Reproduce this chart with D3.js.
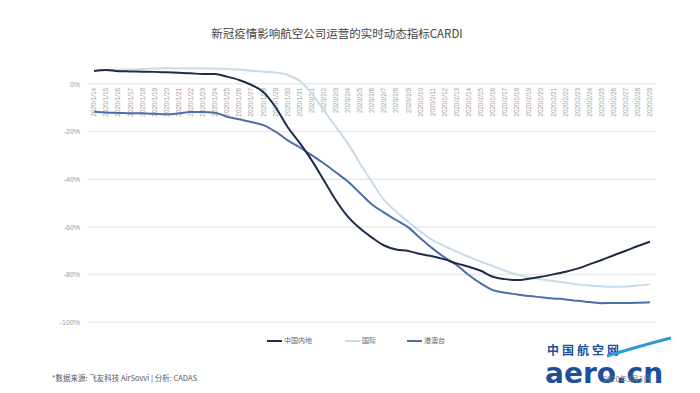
<!DOCTYPE html>
<html>
<head>
<meta charset="utf-8">
<style>
    body { margin: 0; background: #fff; }
    svg { display: block; font-family: "Noto Sans CJK SC", "Noto Sans", sans-serif; }
    .grid line { stroke: #e9e9e9; stroke-width: 1.5; }
    .grid .domain { display: none; }
    .y .tick text { font-size: 7px; fill: #9a9a9a; }
    .y .domain, .y .tick line { display: none; }
    .x .tick text { font-size: 6.5px; fill: #a0a0a0; }
    .x .domain, .x .tick line { display: none; }
</style>
</head>
<body>
<svg width="700" height="393"></svg>

<script src="https://d3js.org/d3.v7.min.js"></script>
<script>
// categories
let dates = [
    "2020/1/14", "2020/1/15", "2020/1/16", "2020/1/17", "2020/1/18", "2020/1/19", "2020/1/20",
    "2020/1/21", "2020/1/22", "2020/1/23", "2020/1/24", "2020/1/25", "2020/1/26", "2020/1/27",
    "2020/1/28", "2020/1/29", "2020/1/30", "2020/1/31", "2020/2/1", "2020/2/2", "2020/2/3",
    "2020/2/4", "2020/2/5", "2020/2/6", "2020/2/7", "2020/2/8", "2020/2/9", "2020/2/10",
    "2020/2/11", "2020/2/12", "2020/2/13", "2020/2/14", "2020/2/15", "2020/2/16", "2020/2/17",
    "2020/2/18", "2020/2/19", "2020/2/20", "2020/2/21", "2020/2/22", "2020/2/23", "2020/2/24",
    "2020/2/25", "2020/2/26", "2020/2/27", "2020/2/28", "2020/2/29"
]

// series values (%)
let mainland = [
    5.4, 5.8, 5.3, 5.2, 5.1, 5.0, 4.8, 4.6, 4.4, 4.1, 4.1, 3.0, 1.6, -0.4,
    -3.4, -9.6, -18.0, -24.7, -32.0, -40.3, -48.7, -55.7, -60.6, -64.5, -67.8, -69.5, -70.1,
    -71.4, -72.3, -73.6, -75.3, -76.7, -78.4, -80.9, -81.9, -82.3, -81.7, -80.9, -79.9, -78.8,
    -77.5, -75.7, -73.9, -71.9, -70.0, -68.0, -66.2
]
let international = [
    5.4, 5.8, 5.9, 6.0, 6.2, 6.4, 6.5, 6.5, 6.5, 6.5, 6.4, 6.2, 6.0, 5.5,
    5.1, 4.7, 3.8, 1.3, -4.0, -11.0, -18.0, -25.0, -33.3, -41.2, -48.7, -53.6, -57.8,
    -62.0, -65.5, -68.0, -70.4, -72.5, -74.6, -76.4, -78.4, -80.0, -81.1, -82.0, -82.7, -83.4,
    -84.1, -84.6, -84.9, -85.1, -85.0, -84.6, -84.1
]
let hkMoTw = [
    -11.7, -12.0, -12.2, -12.4, -12.4, -12.6, -12.8, -12.4, -11.8, -11.8, -12.1, -13.8, -14.9, -16.0,
    -17.3, -20.0, -23.6, -26.6, -29.9, -33.3, -37.1, -41.0, -45.8, -50.6, -54.0, -57.1, -60.2,
    -64.8, -69.0, -72.8, -76.0, -80.2, -83.7, -86.5, -87.6, -88.3, -89.0, -89.5, -90.0, -90.4,
    -91.0, -91.5, -92.0, -91.9, -91.9, -91.8, -91.6
]

let seriesNames = ["中国内地", "国际", "港澳台"]
let seriesColors = ["#1e2c48", "#c8dbea", "#4a6ea8"]
let yTicks = [0, -20, -40, -60, -80, -100]
let yTickLabels = ["0%", "-20%", "-40%", "-60%", "-80%", "-100%"]

let svg = d3.select("svg")

let margin = { top: 84, right: 44, bottom: 71, left: 88 }
let width = 700
let height = 393

let x = d3.scaleBand()
    .domain(dates)
    .range([margin.left, width - margin.right])

let y = d3.scaleLinear()
    .domain([-100, 0])
    .range([322.3, 83.8])

// title
svg.append("text")
    .attr("x", 337)
    .attr("y", 38)
    .attr("text-anchor", "middle")
    .style("font-size", "11.5px")
    .style("fill", "#444")
    .text("新冠疫情影响航空公司运营的实时动态指标CARDI")

// grid lines
svg.append("g")
    .attr("class", "grid")
    .selectAll("line")
    .data(yTicks)
    .join("line")
    .attr("x1", margin.left)
    .attr("x2", width - margin.right)
    .attr("y1", d => y(d))
    .attr("y2", d => y(d))

// y axis labels
svg.append("g")
    .attr("class", "y axis")
    .attr("transform", `translate(${margin.left},0)`)
    .call(d3.axisLeft(y).tickValues(yTicks).tickSize(0).tickPadding(8)
        .tickFormat((d, i) => yTickLabels[i]))

// x axis labels, sitting under the 0% line
let xAxis = svg.append("g")
    .attr("class", "x axis")
    .attr("transform", `translate(0,${y(0)})`)
    .call(d3.axisBottom(x).tickSize(0).tickPadding(0))

xAxis.selectAll(".tick text")
    .attr("transform", "rotate(-90)")
    .attr("text-anchor", "end")
    .attr("x", -4)
    .attr("y", 0)
    .attr("dy", "0.35em")

// lines
let seriesData = [mainland, international, hkMoTw]

let line = d3.line()
    .x((d, i) => x(dates[i]) + x.bandwidth() / 2)
    .y(d => y(d))
    .curve(d3.curveMonotoneX)

// draw light one first so dark sits above
let drawOrder = [1, 2, 0]
svg.append("g")
    .selectAll("path")
    .data(drawOrder)
    .join("path")
    .attr("fill", "none")
    .attr("stroke", k => seriesColors[k])
    .attr("stroke-width", 2)
    .attr("d", k => line(seriesData[k]))

// legend
let legendX = [267, 345, 407]
let legend = svg.append("g")
    .selectAll("g")
    .data(seriesNames)
    .join("g")
    .attr("transform", (d, i) => `translate(${legendX[i]},341)`)

legend.append("line")
    .attr("x1", 0)
    .attr("x2", 15)
    .attr("stroke", (d, i) => seriesColors[i])
    .attr("stroke-width", 2)

legend.append("text")
    .attr("x", 17)
    .attr("dy", "0.35em")
    .style("font-size", "7px")
    .style("fill", "#666")
    .text(d => d)

// source note
svg.append("text")
    .attr("x", 52)
    .attr("y", 381)
    .style("font-size", "7.5px")
    .style("fill", "#555")
    .text("*数据来源: 飞友科技 AirSovvi | 分析: CADAS")

// watermark logo
let logo = svg.append("g").attr("transform", "translate(545,0)")
logo.append("text")
    .attr("x", 2)
    .attr("y", 355)
    .style("font-size", "12px")
    .style("font-weight", "bold")
    .style("fill", "#1d4f9c")
    .style("letter-spacing", "3px")
    .text("中国航空网")
logo.append("text")
    .attr("x", 0)
    .attr("y", 383)
    .style("font-family", "DejaVu Sans")
    .style("font-size", "28px")
    .style("font-weight", "bold")
    .style("fill", "#1d4f9c")
    .style("letter-spacing", "0px")
    .text("aero.cn")
logo.append("path")
    .attr("d", "M 62 356 Q 95 346 118 340 L 126 338")
    .attr("fill", "none")
    .attr("stroke", "#2e9ad8")
    .attr("stroke-width", 3)
logo.append("text")
    .attr("x", 58)
    .attr("y", 382)
    .style("font-size", "7.5px")
    .style("fill", "#777")
    .text("2020年3月3日")
</script>
</body>
</html>
